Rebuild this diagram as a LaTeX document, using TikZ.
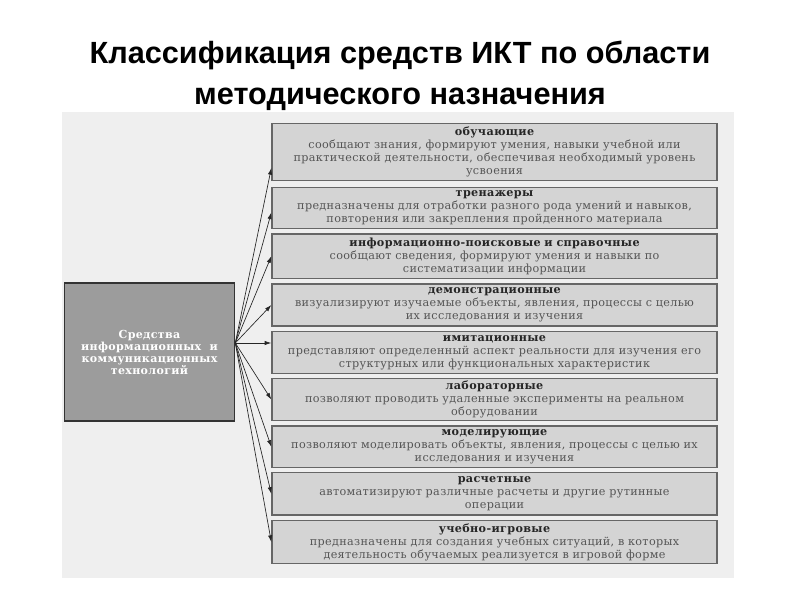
\documentclass[tikz,border=0pt]{standalone}
\usepackage{fontspec}
\setmainfont{Liberation Sans}
\newfontfamily\boxfont[LetterSpace=3]{DejaVu Serif}
\usetikzlibrary{arrows.meta, positioning}
\definecolor{panelgray}{HTML}{EFEFEF}
\definecolor{boxgray}{HTML}{D4D4D4}
\definecolor{srcgray}{HTML}{9C9C9C}
\definecolor{textgray}{HTML}{555555}
\tikzset{
	kindbox/.style={
			draw=black!60,
			line width=1pt,
			fill=boxgray,
			text=textgray,
			align=center,
			text width=330pt,
			minimum width=333.75pt,
			inner sep=0pt,
			font=\boxfont\fontsize{8.4}{9.75}\selectfont
		},
	srcbox/.style={
			draw=black!80,
			line width=1.2pt,
			fill=srcgray,
			text=white,
			align=center,
			minimum width=127.5pt,
			minimum height=103.5pt,
			inner sep=0pt,
			font=\boxfont\bfseries\fontsize{8.3}{9}\selectfont
		},
	fanarrow/.style={
			draw=black!85,
			line width=0.5pt,
			-{Latex[length=5pt, width=3.2pt]}
		}
}
\newcommand{\kindhead}[1]{\textcolor{black!85}{\bfseries #1}}

\begin{document}
\begin{tikzpicture}[x=0.75pt, y=-0.75pt]
	\useasboundingbox (0,0) rectangle (800,600);
	\fill[white] (0,0) rectangle (800,600);
	\fill[panelgray] (62,112) rectangle (734,578);

	\node[font=\bfseries\fontsize{23}{31}\selectfont, align=center] (title) at (400,76)
		{Классификация средств ИКТ по области\\методического назначения};

	\node[srcbox] (src) at (149.5,352)
		{Средства\\информационных\ \ и\\коммуникационных\\технологий};

	\node[kindbox, minimum height=43pt] (tobu) at (494.5,152)
		{\kindhead{обучающие}\\сообщают знания, формируют умения, навыки учебной или\\практической деятельности, обеспечивая необходимый уровень\\усвоения};
	\node[kindbox, minimum height=30.75pt] (ttren) at (494.5,207.8)
		{\kindhead{тренажеры}\\предназначены для отработки разного рода умений и навыков,\\повторения или закрепления пройденного материала};
	\node[kindbox, minimum height=33.2pt] (tinfo) at (494.5,256.2)
		{\kindhead{информационно-поисковые и справочные}\\сообщают сведения, формируют умения и навыки по\\систематизации информации};
	\node[kindbox, minimum height=31.5pt] (tdemo) at (494.5,305)
		{\kindhead{демонстрационные}\\визуализируют изучаемые объекты, явления, процессы с целью\\их исследования и изучения};
	\node[kindbox, minimum height=31.2pt] (timit) at (494.5,352.5)
		{\kindhead{имитационные}\\представляют определенный аспект реальности для изучения его\\структурных или функциональных характеристик};
	\node[kindbox, minimum height=31.8pt] (tlab) at (494.5,399.5)
		{\kindhead{лабораторные}\\позволяют проводить удаленные эксперименты на реальном\\оборудовании};
	\node[kindbox, minimum height=31.3pt] (tmod) at (494.5,446.8)
		{\kindhead{моделирующие}\\позволяют моделировать объекты, явления, процессы с целью их\\исследования и изучения};
	\node[kindbox, minimum height=31.7pt] (trasch) at (494.5,493.8)
		{\kindhead{расчетные}\\автоматизируют различные расчеты и другие рутинные\\операции};
	\node[kindbox, minimum height=32pt] (tigr) at (494.5,542)
		{\kindhead{учебно-игровые}\\предназначены для создания учебных ситуаций, в которых\\деятельность обучаемых реализуется в игровой форме};

	% fan of arrows from the source box
	\coordinate (hub) at ([yshift=6.75pt]src.east);
	\draw[fanarrow] (hub) -- ([yshift=-12pt]tobu.west);
	\draw[fanarrow] (hub) -- ([yshift=-3.5pt]ttren.west);
	\draw[fanarrow] (hub) -- (tinfo.west);
	\draw[fanarrow] (hub) -- (tdemo.west);
	\draw[fanarrow] (hub) -- (hub -| timit.west);
	\draw[fanarrow] (hub) -- (tlab.west);
	\draw[fanarrow] (hub) -- (tmod.west);
	\draw[fanarrow] (hub) -- (trasch.west);
	\draw[fanarrow] (hub) -- (tigr.west);
\end{tikzpicture}
\end{document}
